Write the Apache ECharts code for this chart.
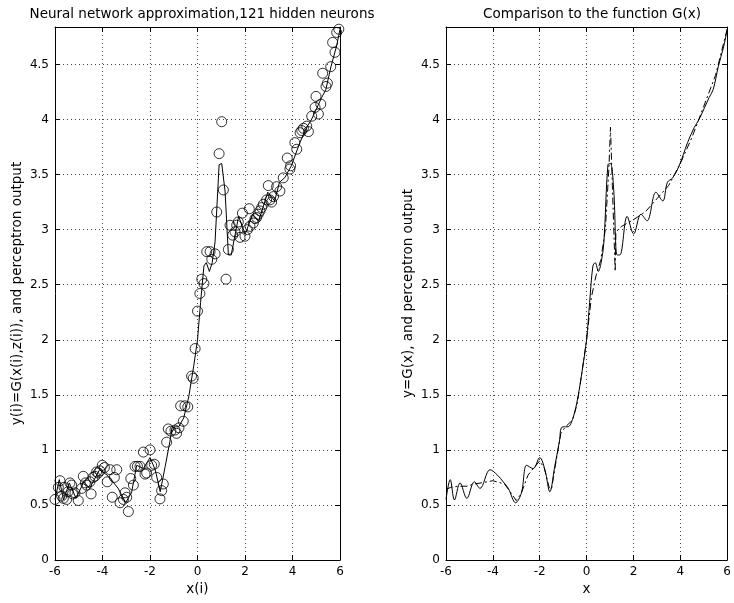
<!DOCTYPE html>
<html>
<head>
<meta charset="utf-8">
<script src="https://cdn.jsdelivr.net/npm/echarts@6/dist/echarts.min.js"></script>
<style>html,body{margin:0;padding:0;background:#fff}#c{width:734px;height:603px}</style>
</head>
<body>
<div id="c"></div>
<script>
// ---- data ----
var xTicks = [-6, -4, -2, 0, 2, 4, 6];
var yTicks = [0, 0.5, 1, 1.5, 2, 2.5, 3, 3.5, 4, 4.5];

// noisy training samples (x(i), y(i))
var sampleX = [-6.0,-5.86,-5.79,-5.72,-5.65,-5.62,-5.51,-5.45,-5.37,-5.30,-5.26,-5.16,-5.02,-4.88,-4.81,-4.72,-4.67,-4.53,-4.48,-4.40,-4.32,-4.25,-4.18,-4.11,-4.01,-3.92,-3.80,-3.68,-3.59,-3.50,-3.40,-3.26,-3.12,-3.05,-2.98,-2.91,-2.81,-2.70,-2.63,-2.53,-2.42,-2.28,-2.21,-2.14,-2.0,-1.93,-1.82,-1.72,-1.58,-1.51,-1.44,-1.30,-1.23,-1.12,-0.95,-0.88,-0.78,-0.71,-0.6,-0.53,-0.41,-0.25,-0.18,-0.1,0.0,
  0.1,0.18,0.27,0.39,0.53,0.6,0.74,0.81,0.91,1.02,1.09,1.2,1.30,1.37,1.48,1.58,1.65,1.72,1.79,1.89,2.0,2.1,2.18,2.21,2.35,2.42,2.49,2.56,2.63,2.70,2.77,2.91,2.98,3.05,3.12,3.2,3.33,3.47,3.61,3.78,3.89,3.92,4.1,4.18,4.32,4.39,4.46,4.6,4.67,4.81,4.95,4.99,5.09,5.19,5.27,5.41,5.47,5.61,5.69,5.79,5.86,5.95];
var sampleY = [0.55,0.66,0.72,0.58,0.56,0.66,0.55,0.62,0.70,0.68,0.60,0.61,0.54,0.65,0.76,0.70,0.68,0.71,0.60,0.75,0.76,0.80,0.79,0.81,0.86,0.84,0.71,0.82,0.57,0.75,0.82,0.52,0.55,0.61,0.57,0.44,0.74,0.68,0.85,0.85,0.85,0.98,0.78,0.79,1.0,0.86,0.87,0.75,0.555,0.63,0.69,1.07,1.19,1.17,1.18,1.15,1.20,1.40,1.26,1.40,1.39,1.67,1.65,1.92,2.26,
  2.42,2.55,2.51,2.80,2.80,2.73,2.78,3.16,3.69,3.98,3.36,2.55,2.82,3.04,2.95,2.98,3.04,3.07,2.93,3.15,2.94,3.0,3.19,3.03,3.06,3.10,3.11,3.14,3.17,3.20,3.23,3.27,3.40,3.27,3.25,3.30,3.39,3.35,3.47,3.65,3.55,3.58,3.79,3.73,3.88,3.90,3.92,3.94,3.89,4.03,4.11,4.21,4.05,4.14,4.42,4.30,4.33,4.48,4.70,4.61,4.79,4.82];

// perceptron output
var netX = [-6.0,-5.82,-5.64,-5.40,-5.11,-4.79,-4.55,-4.12,-3.80,-3.56,-3.34,-3.03,-2.78,-2.56,-2.28,-2.0,-1.78,-1.57,-1.36,-1.15,-1.08,-0.9,-0.79,-0.58,-0.37,-0.16,0.0,0.13,0.27,0.37,0.50,0.62,0.74,0.91,1.02,1.16,1.30,1.42,1.73,2.01,2.32,2.58,2.96,3.25,3.45,3.67,3.95,4.31,4.6,4.80,5.23,5.40,5.62,5.86,6.0];
var netY = [0.55,0.73,0.545,0.70,0.56,0.71,0.65,0.82,0.77,0.71,0.65,0.52,0.61,0.86,0.83,0.93,0.82,0.62,0.85,1.09,1.20,1.21,1.21,1.29,1.48,1.76,2.0,2.34,2.67,2.70,2.62,2.70,2.89,3.59,3.60,3.35,2.77,2.77,3.12,2.96,3.14,3.08,3.34,3.26,3.43,3.47,3.58,3.79,3.93,4.00,4.20,4.27,4.48,4.67,4.82];

// function G(x)
var gX = [-6.0,-5.8,-5.5,-5.1,-4.8,-4.5,-4.0,-3.5,-3.2,-3.0,-2.8,-2.5,-2.2,-2.0,-1.8,-1.6,-1.5,-1.3,-1.1,-0.9,-0.6,-0.4,-0.2,0.0,0.2,0.4,0.6,0.8,0.95,1.02,1.1,1.22,1.25,1.5,2.0,2.5,3.0,3.5,4.0,4.5,5.0,5.5,6.0];
var gY = [0.64,0.66,0.67,0.67,0.69,0.70,0.72,0.69,0.60,0.54,0.60,0.77,0.85,0.90,0.83,0.66,0.64,0.90,1.15,1.21,1.27,1.42,1.70,2.0,2.38,2.58,2.72,3.0,3.55,3.93,3.4,2.62,2.98,3.03,3.09,3.16,3.28,3.40,3.60,3.84,4.12,4.40,4.82];

function pairs(xs, ys){ var r=[]; for (var i=0;i<xs.length;i++) r.push([xs[i], ys[i]]); return r; }

var FONT = 'DejaVu Sans, Liberation Sans, Arial, sans-serif';
var Y_MAX = 4.84;
function yFmt(v){ var r = Math.round(v*100)/100; return yTicks.indexOf(r) >= 0 ? String(r) : ''; }

function xAxes(gi, name){
  return [{
    type:'value', gridIndex:gi, min:-6, max:6, interval:2, position:'bottom',
    name:name, nameLocation:'middle', nameGap:22,
    nameTextStyle:{color:'#000', fontSize:13.5, fontFamily:FONT},
    axisLine:{show:true, onZero:false, lineStyle:{color:'#000', width:1}},
    axisTick:{show:true, inside:true, length:5, lineStyle:{color:'#000'}},
    axisLabel:{color:'#000', fontSize:12, fontFamily:FONT, margin:6},
    splitLine:{show:true, lineStyle:{color:'#444', type:[1,3], width:1}}
  },{
    type:'value', gridIndex:gi, min:-6, max:6, interval:2, position:'top',
    axisLine:{show:true, onZero:false, lineStyle:{color:'#000', width:1}},
    axisTick:{show:true, inside:true, length:5, lineStyle:{color:'#000'}},
    axisLabel:{show:false}, splitLine:{show:false}
  }];
}
function yAxes(gi, name){
  return [{
    type:'value', gridIndex:gi, min:0, max:Y_MAX, interval:0.5, position:'left',
    name:name, nameLocation:'middle', nameGap:31,
    nameTextStyle:{color:'#000', fontSize:13.5, fontFamily:FONT},
    axisLine:{show:true, onZero:false, lineStyle:{color:'#000', width:1}},
    axisTick:{show:true, inside:true, length:5, lineStyle:{color:'#000'}},
    axisLabel:{color:'#000', fontSize:12, fontFamily:FONT, margin:6, formatter:yFmt, showMaxLabel:false},
    splitLine:{show:true, lineStyle:{color:'#444', type:[1,3], width:1}}
  },{
    type:'value', gridIndex:gi, min:0, max:Y_MAX, interval:0.5, position:'right',
    axisLine:{show:true, onZero:false, lineStyle:{color:'#000', width:1}},
    axisTick:{show:true, inside:true, length:5, lineStyle:{color:'#000'}},
    axisLabel:{show:false}, splitLine:{show:false}
  }];
}

var chart = echarts.init(document.getElementById('c'), null, {renderer:'canvas'});
chart.setOption({
  animation:false,
  backgroundColor:'#fff',
  title:[
    {text:'Neural network approximation,121 hidden neurons', left:197, top:2, textAlign:'center',
     textStyle:{fontSize:13.5, fontWeight:'normal', color:'#000', fontFamily:FONT}},
    {text:'Comparison to the function G(x)', left:587, top:2, textAlign:'center',
     textStyle:{fontSize:13.5, fontWeight:'normal', color:'#000', fontFamily:FONT}}
  ],
  grid:[
    {left:55, top:27, width:285, height:533},
    {left:446, top:27, width:282, height:533}
  ],
  xAxis: xAxes(0,'x(i)').concat(xAxes(1,'x')),
  yAxis: yAxes(0,'y(i)=G(x(i),z(i)), and perceptron output').concat(yAxes(1,'y=G(x), and perceptron output')),
  series:[
    {type:'scatter', xAxisIndex:0, yAxisIndex:0, data:pairs(sampleX, sampleY),
     symbol:'circle', symbolSize:10,
     itemStyle:{color:'rgba(0,0,0,0)', borderColor:'#000', borderWidth:1}},
    {type:'line', xAxisIndex:0, yAxisIndex:0, data:pairs(netX, netY), showSymbol:false,
     lineStyle:{color:'#000', width:1}},
    {type:'line', xAxisIndex:2, yAxisIndex:2, data:pairs(gX, gY), showSymbol:false,
     lineStyle:{color:'#000', width:1, type:[7,3,2,3]}},
    {type:'line', xAxisIndex:2, yAxisIndex:2, data:pairs(netX, netY), showSymbol:false, smooth:0.35,
     lineStyle:{color:'#000', width:1}}
  ]
});
</script>
</body>
</html>
